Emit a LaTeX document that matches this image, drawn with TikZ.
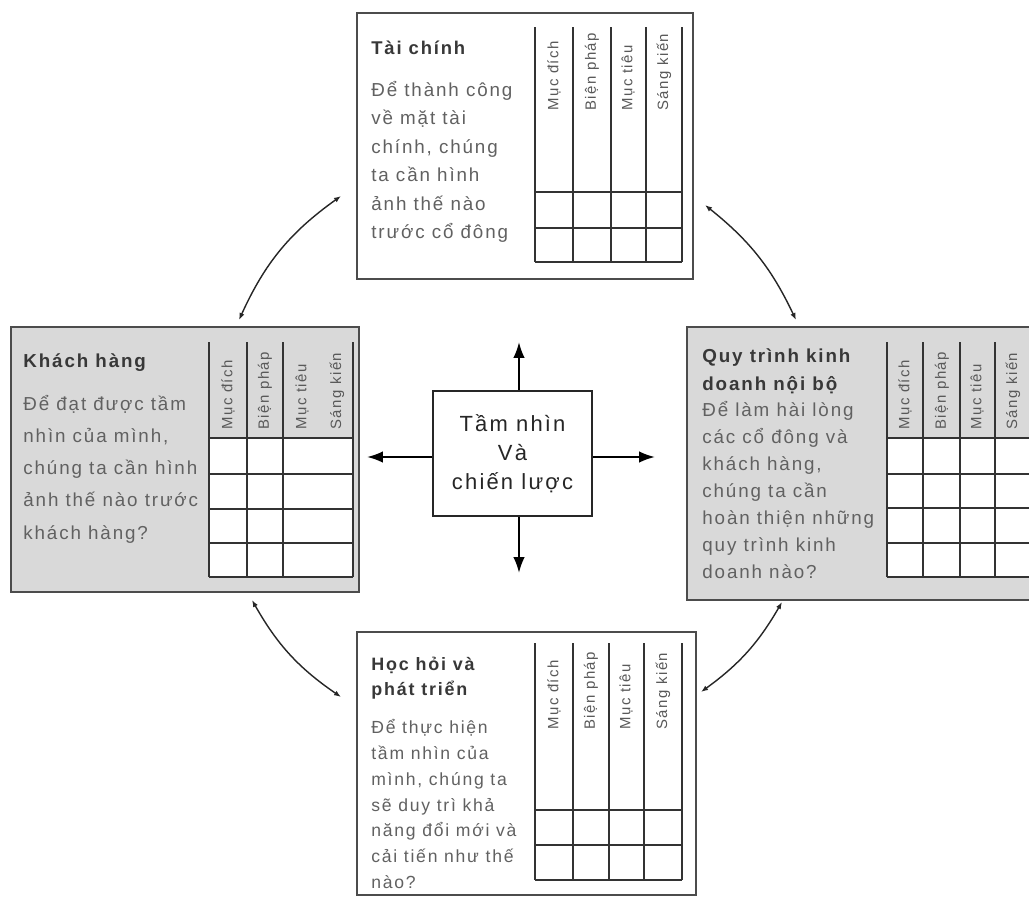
\documentclass[tikz,border=0pt]{standalone}
\usepackage{fontspec}
\setmainfont{Liberation Sans}
\newfontfamily\boxfont[LetterSpace=10]{Liberation Sans}
\usetikzlibrary{positioning,arrows.meta}

\begin{document}
\begin{tikzpicture}[
  x=0.02cm, y=-0.02cm,
  panel/.style={draw=black!70, line width=1.3pt, inner sep=0pt, fill=white},
  shaded/.style={panel, fill=black!15},
  tabline/.style={draw=black!80, line width=0.7pt},
  colhead/.style={rotate=90, anchor=west, inner sep=0pt, text=black!65, font=\boxfont\fontsize{8.5}{10}\selectfont},
  heading/.style 2 args={anchor=north west, inner sep=0pt, align=left, text=black!78, font=\boxfont\bfseries\fontsize{#1}{#2}\selectfont},
  body/.style 2 args={anchor=north west, inner sep=0pt, align=left, text=black!62, font=\boxfont\fontsize{#1}{#2}\selectfont},
  vis/.style={draw=black!85, line width=1.2pt, fill=white, minimum width=3.18cm, minimum height=2.5cm, align=center, text=black!85, font=\boxfont\fontsize{12.5}{16.5}\selectfont},
  arr/.style={-{Latex[length=9pt,width=6.5pt]}, line width=1.2pt},
  link/.style={{Latex[length=4pt,width=3pt]}-{Latex[length=4pt,width=3pt]}, line width=0.8pt, black!85}
]
  \useasboundingbox (0,0) rectangle (1029,897);
  \clip (0,0) rectangle (1029,897);
  \fill[white] (0,0) rectangle (1029,897);

  \node[panel, minimum width=6.72cm, minimum height=5.32cm] (fin) at (525,146) {};
  \node[shaded, minimum width=6.96cm, minimum height=5.3cm] (cust) at (185,459.5) {};
  \node[shaded, minimum width=7.16cm, minimum height=5.46cm] (proc) at (866,463.5) {};
  \node[panel, minimum width=6.78cm, minimum height=5.26cm] (learn) at (526.5,763.5) {};
  \node[vis] (vis) at (512.5,453.5) {Tầm nhìn\\Và\\chiến lược};

  \node[heading={10.5}{16}] (fin-t) at (371,41) {Tài chính};
  \node[body={10.7}{16.2}] (fin-b) at (371,81) {Để thành công\\về mặt tài\\chính, chúng\\ta cần hình\\ảnh thế nào\\trước cổ đông};
  \foreach \x in {535,573,611,646,682} \draw[tabline] (\x,27) -- (\x,262);
  \foreach \y in {192,228,262} \draw[tabline] (535,\y) -- (682,\y);
  \foreach \x/\t [count=\i] in {554/Mục đích,592/Biện pháp,628/Mục tiêu,664/Sáng kiến}
    \node[colhead] (fin-h\i) at (\x,111) {\t};

  \node[heading={10.7}{16}] (cust-t) at (23,353) {Khách hàng};
  \node[body={10.7}{18.3}] (cust-b) at (23,395) {Để đạt được tầm\\nhìn của mình,\\chúng ta cần hình\\ảnh thế nào trước\\khách hàng?};
  \fill[white] (209,438) rectangle (353,577);
  \foreach \x in {209,247,283,353} \draw[tabline] (\x,342) -- (\x,577);
  \foreach \y in {438,474,509,543,577} \draw[tabline] (209,\y) -- (353,\y);
  \foreach \x/\t [count=\i] in {228/Mục đích,265/Biện pháp,302/Mục tiêu,337/Sáng kiến}
    \node[colhead] (cust-h\i) at (\x,430) {\t};

  \node[heading={10.7}{16.2}] (proc-t) at (702,348) {Quy trình kinh\\doanh nội bộ};
  \node[body={10.7}{15.4}] (proc-b) at (702,401) {Để làm hài lòng\\các cổ đông và\\khách hàng,\\chúng ta cần\\hoàn thiện những\\quy trình kinh\\doanh nào?};
  \fill[white] (887,438) rectangle (1031,577);
  \foreach \x in {887,923,960,995,1031} \draw[tabline] (\x,342) -- (\x,577);
  \foreach \y in {438,474,508,543,577} \draw[tabline] (887,\y) -- (1031,\y);
  \foreach \x/\t [count=\i] in {905/Mục đích,942/Biện pháp,977/Mục tiêu,1013/Sáng kiến}
    \node[colhead] (proc-h\i) at (\x,430) {\t};

  \node[heading={10.2}{14.2}] (learn-t) at (371,657) {Học hỏi và\\phát triển};
  \node[body={10}{14.7}] (learn-b) at (371,719) {Để thực hiện\\tầm nhìn của\\mình, chúng ta\\sẽ duy trì khả\\năng đổi mới và\\cải tiến như thế\\nào?};
  \foreach \x in {535,573,609,644,682} \draw[tabline] (\x,643) -- (\x,880);
  \foreach \y in {810,845,880} \draw[tabline] (535,\y) -- (682,\y);
  \foreach \x/\t [count=\i] in {554/Mục đích,591/Biện pháp,626/Mục tiêu,663/Sáng kiến}
    \node[colhead] (learn-h\i) at (\x,730) {\t};

  \coordinate (up) at (519,342);
  \coordinate (down) at (519,573);
  \coordinate (lt) at (367,457);
  \coordinate (rt) at (655,457);
  \draw[arr] (up |- vis.north) -- (up);
  \draw[arr] (down |- vis.south) -- (down);
  \draw[arr] (lt -| vis.west) -- (lt);
  \draw[arr] (rt -| vis.east) -- (rt);

  \coordinate (a1) at (341,196);
  \coordinate (a2) at (239,320);
  \coordinate (a3) at (252,600);
  \coordinate (a4) at (341,697);
  \coordinate (a5) at (701,692);
  \coordinate (a6) at (782,602);
  \coordinate (a7) at (796,320);
  \coordinate (a8) at (705,205);
  \draw[link] (a1) to[bend right=15] (a2);
  \draw[link] (a3) to[bend right=13] (a4);
  \draw[link] (a5) to[bend right=12] (a6);
  \draw[link] (a7) to[bend right=13] (a8);
\end{tikzpicture}
\end{document}
